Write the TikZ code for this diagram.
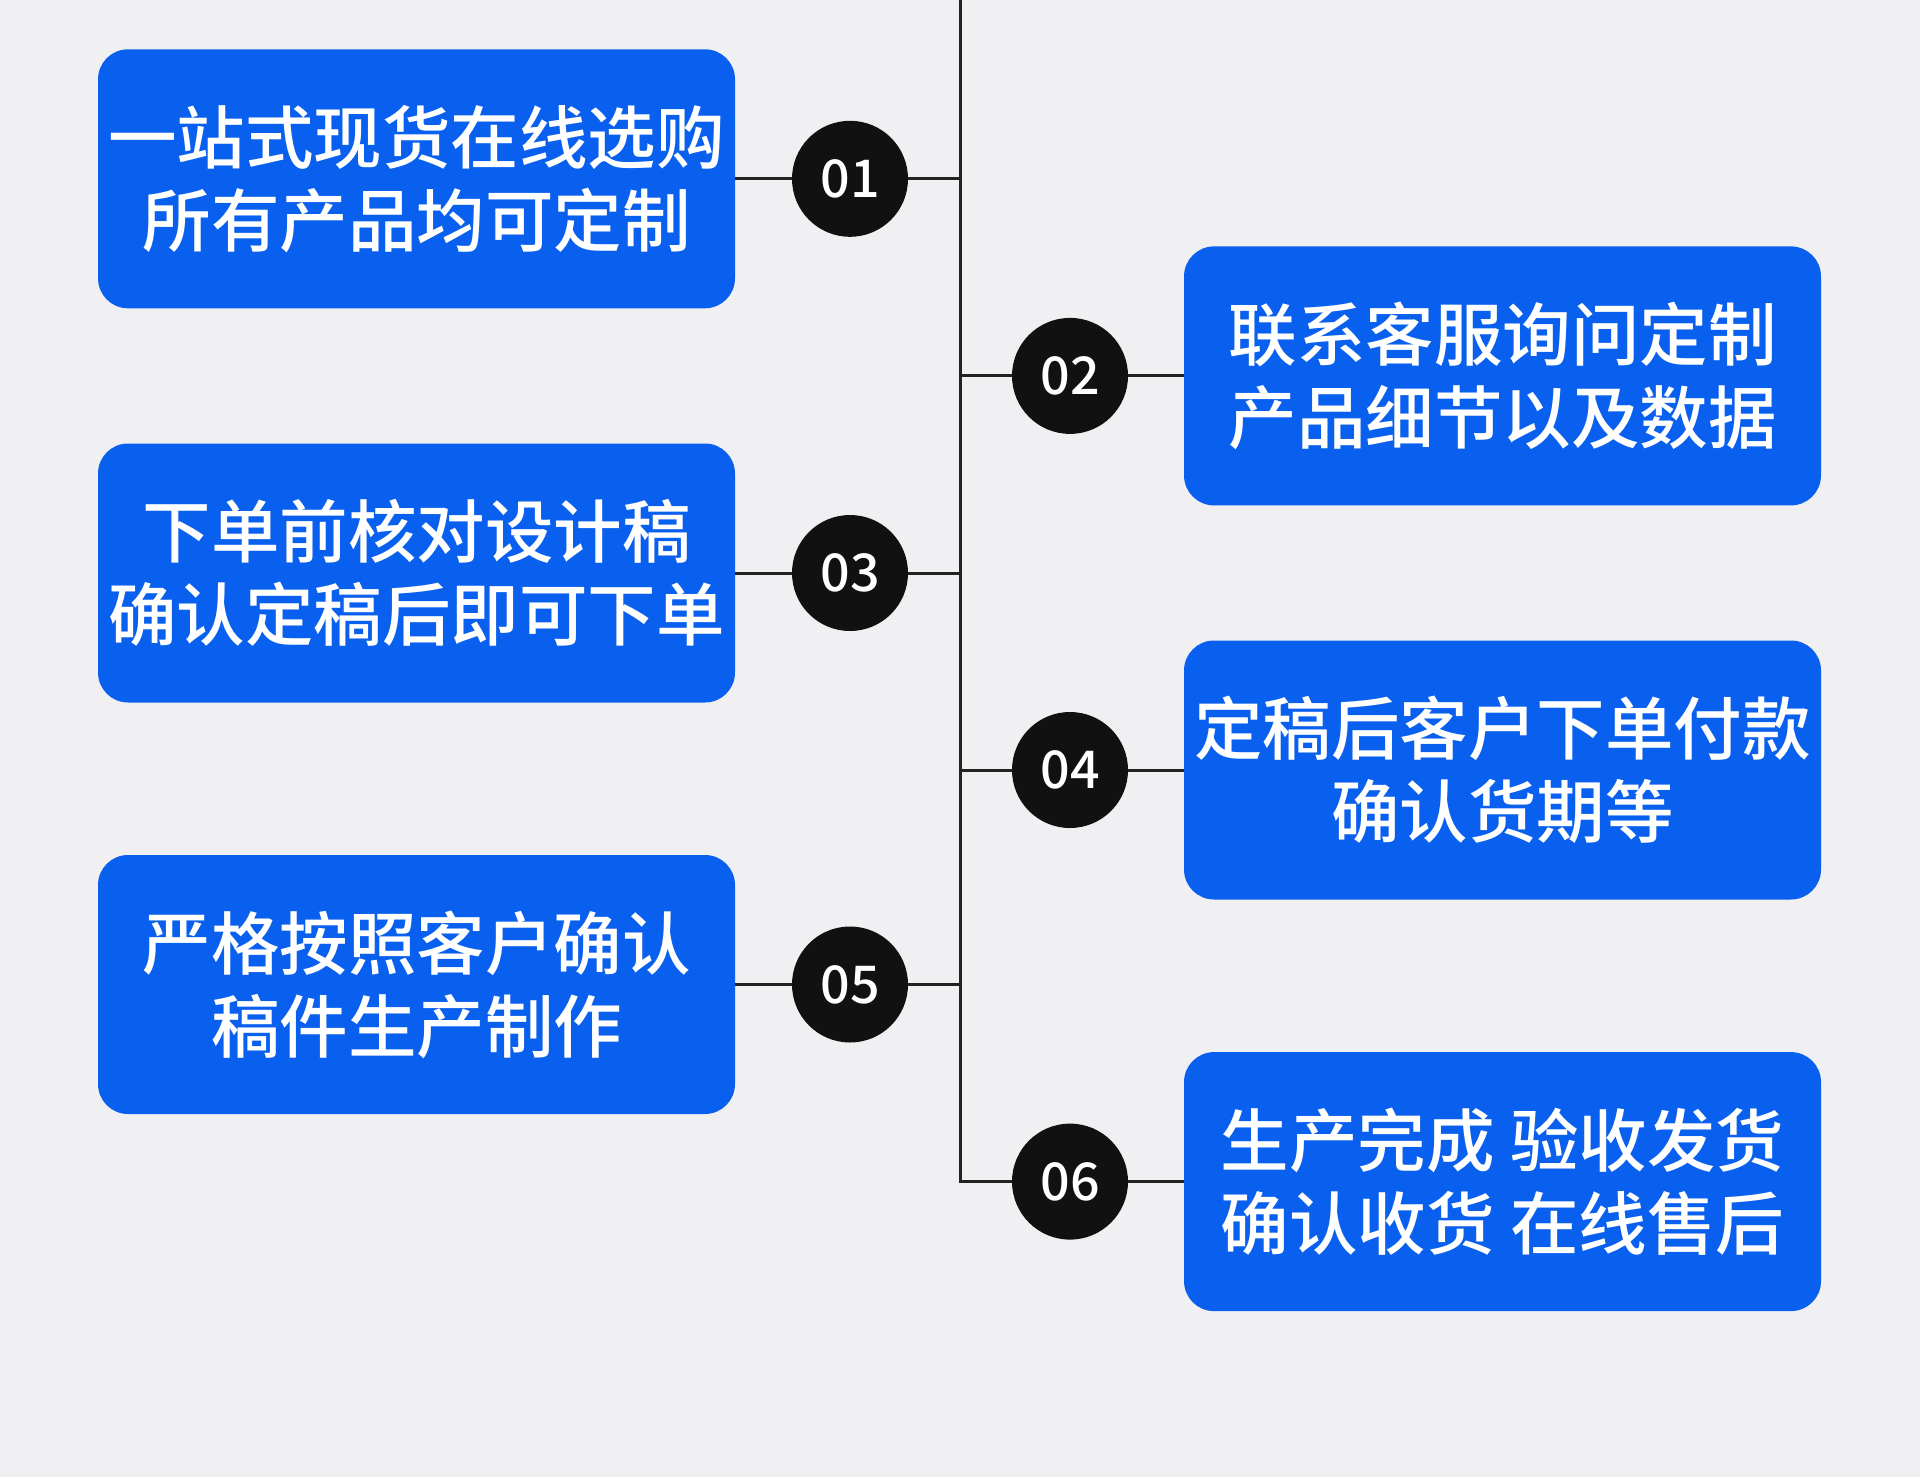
\documentclass[tikz,border=0pt]{standalone}
\usepackage{fontspec}
\newfontfamily\cjk{Noto Sans CJK SC Medium}
\definecolor{bgc}{HTML}{F0F0F3}
\definecolor{boxblue}{HTML}{0A60EE}
\definecolor{dotc}{HTML}{111111}
\definecolor{linec}{HTML}{222222}
\begin{document}
\begin{tikzpicture}[x=1pt,y=-1pt,
  stepbox/.style={fill=boxblue, rounded corners=30pt, minimum width=637pt, minimum height=259pt,
    text=white, align=center, font=\cjk\fontsize{68.5}{83}\selectfont, inner sep=0pt},
  numdot/.style={circle, fill=dotc, minimum size=116pt, inner sep=0pt, text=white,
    font=\cjk\fontsize{52}{56}\selectfont},
  conn/.style={draw=linec, line width=3pt}]
\fill[bgc] (0,0) rectangle (1920,1477);
\useasboundingbox (0,0) rectangle (1920,1477);
% boxes
\node[stepbox] (b1) at (416.5,178.8) {一站式现货在线选购\\所有产品均可定制};
\node[stepbox] (b2) at (1502.5,375.9) {联系客服询问定制\\产品细节以及数据};
\node[stepbox] (b3) at (416.5,573) {下单前核对设计稿\\确认定稿后即可下单};
\node[stepbox] (b4) at (1502.5,770) {定稿后客户下单付款\\确认货期等};
\node[stepbox] (b5) at (416.5,984.5) {严格按照客户确认\\稿件生产制作};
\node[stepbox] (b6) at (1502.5,1181.6) {生产完成 验收发货\\确认收货 在线售后};
% circles
\node[numdot] (c1) at (850,178.8) {01};
\node[numdot] (c2) at (1070,375.9) {02};
\node[numdot] (c3) at (850,573) {03};
\node[numdot] (c4) at (1070,770) {04};
\node[numdot] (c5) at (850,984.5) {05};
\node[numdot] (c6) at (1070,1181.6) {06};
% spine coordinates
\coordinate (top) at (960,0);
\coordinate (s1) at (960,178.8);
\coordinate (s2) at (960,375.9);
\coordinate (s3) at (960,573);
\coordinate (s4) at (960,770);
\coordinate (s5) at (960,984.5);
\coordinate (s6) at (960,1181.6);
% connectors
\draw[conn] (top) -- (s6) -- (c6.west);
\draw[conn] (b1.east) -- (c1.west);
\draw[conn] (c1.east) -- (s1);
\draw[conn] (s2) -- (c2.west);
\draw[conn] (c2.east) -- (b2.west);
\draw[conn] (b3.east) -- (c3.west);
\draw[conn] (c3.east) -- (s3);
\draw[conn] (s4) -- (c4.west);
\draw[conn] (c4.east) -- (b4.west);
\draw[conn] (b5.east) -- (c5.west);
\draw[conn] (c5.east) -- (s5);
\draw[conn] (c6.east) -- (b6.west);
\end{tikzpicture}
\end{document}
